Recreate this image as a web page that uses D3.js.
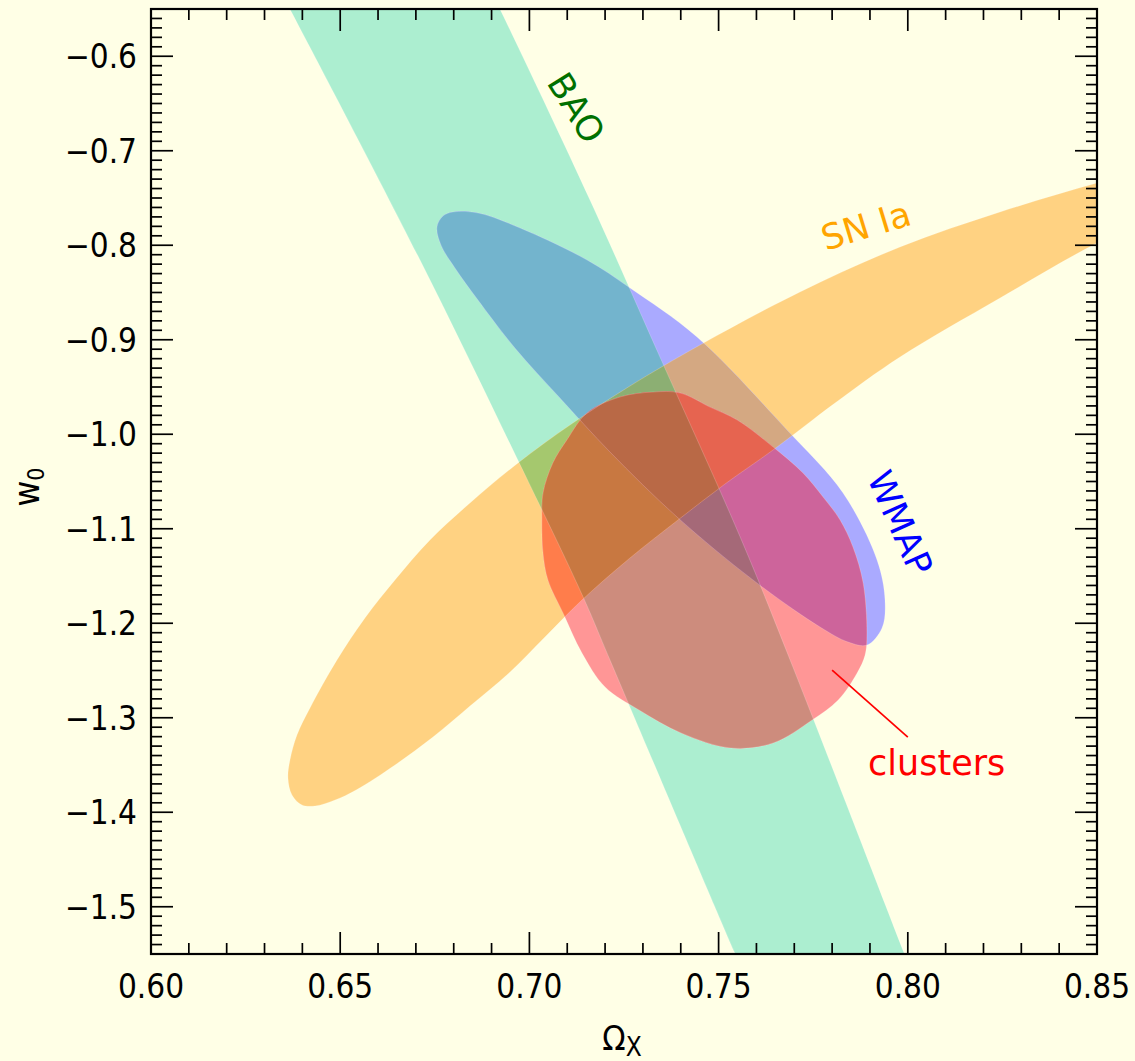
<!DOCTYPE html>
<html><head><meta charset="utf-8">
<script src="https://cdn.jsdelivr.net/npm/d3@7"></script>
<style>
body{margin:0;background:#ffffe6;}
svg{display:block;}
text{font-family:"DejaVu Sans Condensed","DejaVu Sans",sans-serif;}
.lab{font-family:"DejaVu Sans",sans-serif;}
</style>
</head><body>
<script>
// ---------- data ----------
const xDomain = [0.60, 0.85];
const yDomain = [-1.55, -0.55];
const xTickValues = [0.60, 0.65, 0.70, 0.75, 0.80, 0.85];
const yTickValues = [-0.6, -0.7, -0.8, -0.9, -1.0, -1.1, -1.2, -1.3, -1.4, -1.5];

// BAO band: left and right edges [Omega_X, w0]
const baoLeft = [[0.630,-0.50],[0.6367,-0.55],[0.6711,-0.8156],[0.6967,-1.0251],[0.7142,-1.1722],[0.7213,-1.2389],[0.7543,-1.5489],[0.760,-1.60]];
const baoRight = [[0.686,-0.50],[0.6922,-0.55],[0.7160,-0.7521],[0.7345,-0.9183],[0.7557,-1.1087],[0.7689,-1.2389],[0.7990,-1.5489],[0.804,-1.60]];

// SN Ia contour
const snIa = [[0.63673,-1.34471],[0.63858,-1.31825],[0.64202,-1.28968],[0.64915,-1.23889],[0.65655,-1.19444],[0.66448,-1.15423],[0.67373,-1.11190],[0.68430,-1.07275],[0.69699,-1.03042],[0.71073,-0.99021],[0.72658,-0.94894],[0.74508,-0.90556],[0.77151,-0.84947],[0.79794,-0.80185],[0.82437,-0.76481],[0.85000,-0.73413],[0.87193,-0.71190],
  [0.87193,-0.75741],[0.85000,-0.79762],[0.82437,-0.85582],[0.79794,-0.91825],[0.78076,-0.96693],[0.76438,-1.01667],[0.75169,-1.05265],[0.73927,-1.09074],[0.72658,-1.13095],[0.71390,-1.17540],[0.70412,-1.21455],[0.69461,-1.25265],[0.68430,-1.28757],[0.67452,-1.32037],[0.66448,-1.35000],[0.65418,-1.37646],[0.64863,-1.38704],[0.64334,-1.39339],[0.63990,-1.39233],[0.63726,-1.38175],[0.63620,-1.36376]];

// WMAP contour
const wmap = [[0.67558,-0.78069],[0.67717,-0.76905],[0.67981,-0.76481],[0.68642,-0.76587],[0.69752,-0.78175],[0.71522,-0.81561],[0.72659,-0.84524],[0.74429,-0.89709],[0.76808,-0.99550],[0.78288,-1.06217],[0.79186,-1.13307],[0.79397,-1.17540],[0.79318,-1.20503],[0.78922,-1.22302],
  [0.78420,-1.21984],[0.77680,-1.20397],[0.75909,-1.15423],[0.73901,-1.08757],[0.72130,-1.01878],[0.70809,-0.96164],[0.69619,-0.90873],[0.68642,-0.85794],[0.68034,-0.82407],[0.67664,-0.79974]];

// clusters contour
const clusters = [[0.7327,-0.9553],[0.7398,-0.9563],[0.7477,-0.9712],[0.7549,-0.9849],[0.7644,-1.0135],[0.7723,-1.0410],[0.7776,-1.0664],[0.7821,-1.0907],[0.7855,-1.1193],[0.7882,-1.1574],[0.7892,-1.2103],[0.7887,-1.2336],[0.7866,-1.2526],[0.7816,-1.2812],[0.7747,-1.3024],[0.7644,-1.3267],[0.7533,-1.3320],[0.7401,-1.3161],[0.7290,-1.2918],[0.7200,-1.2675],[0.7139,-1.2315],[0.7089,-1.1892],[0.7049,-1.1542],[0.7036,-1.1257],[0.7033,-1.0907],[0.7036,-1.0622],[0.7062,-1.0304],[0.7099,-1.0061],[0.7152,-0.9775],[0.7239,-0.9606]];

// labels
const labelBAO = {text:"BAO", at:[0.71232,-0.65476]};
const labelSN = {text:"SN Ia", at:[0.78895,-0.77963]};
const labelWMAP = {text:"WMAP", at:[0.79794,-1.09392]};
const labelClusters = {text:"clusters", at:[0.7895,-1.3606]};
const clustersPointer = [[0.7800,-1.2495],[0.8000,-1.3204]];

// ---------- styles ----------
const regionColors = {
  B:"#aceed0", S:"#ffd282", W:"#aaaaff", C:"#ff9696",
  BS:"#a5c86e", BW:"#73b4cd", BC:"#cd8c7d", SW:"#d4a882", SC:"#ff7d4b", WC:"#cd649b",
  BSW:"#8caf73", BSC:"#c87841", BWC:"#a56978", SWC:"#e66450", BSWC:"#b96946"
};

const W = 1135, H = 1061;
const plot = {left:151, right:1097, top:9, bottom:954};

const x = d3.scaleLinear().domain(xDomain).range([plot.left, plot.right]);
const y = d3.scaleLinear().domain(yDomain).range([plot.bottom, plot.top]);

const svg = d3.select("body").append("svg").attr("width", W).attr("height", H);
svg.append("rect").attr("width", W).attr("height", H).attr("fill", "#ffffe6");

const defs = svg.append("defs");
defs.append("clipPath").attr("id","clip-plot").append("rect")
  .attr("x",plot.left).attr("y",plot.top).attr("width",plot.right-plot.left).attr("height",plot.bottom-plot.top);

const edgeLine = d3.line().x(d=>x(d[0])).y(d=>y(d[1])).curve(d3.curveCatmullRom);
const closedLine = d3.line().x(d=>x(d[0])).y(d=>y(d[1])).curve(d3.curveCatmullRomClosed);

const baoPath = edgeLine(baoLeft) + "L" + edgeLine(baoRight.slice().reverse()).slice(1) + "Z";
const shapePaths = {
  B: baoPath,
  S: closedLine(snIa),
  W: closedLine(wmap),
  C: closedLine(clusters)
};
const keys = ["B","S","W","C"];
keys.forEach(k=>{
  defs.append("clipPath").attr("id","clip-"+k).append("path").attr("d", shapePaths[k]);
});

const plotG = svg.append("g").attr("clip-path","url(#clip-plot)");

// paint every overlap region in its own colour: subsets by increasing size
const subsets = [];
for (let m=1; m<16; m++) {
  subsets.push(keys.filter((k,i)=> m & (1<<i)));
}
subsets.sort((a,b)=>a.length-b.length);
subsets.forEach(members=>{
  let g = plotG;
  members.forEach(k=>{ g = g.append("g").attr("clip-path","url(#clip-"+k+")"); });
  g.append("rect").attr("x",plot.left).attr("y",plot.top)
    .attr("width",plot.right-plot.left).attr("height",plot.bottom-plot.top)
    .attr("fill", regionColors[members.join("")]);
});
// faint outlines
keys.forEach(k=>{
  plotG.append("path").attr("d", shapePaths[k]).attr("fill","none")
    .attr("stroke","#ffffff").attr("stroke-opacity",0.18).attr("stroke-width",1);
});

// ---------- frame and ticks ----------
const axG = svg.append("g").attr("stroke","#000");
const xMinor = d3.range(0, 26).map(i=> +(0.60 + i*0.01).toFixed(2));
const yMinor = d3.range(0, 101).map(i=> +(-1.55 + i*0.01).toFixed(2));
const isMajorX = v => xTickValues.some(t=>Math.abs(t-v)<1e-9);
const isMajorY = v => yTickValues.some(t=>Math.abs(t-v)<1e-9);
const majorLen = 22, minorLen = 11;
xMinor.forEach(v=>{
  const L = isMajorX(v)? majorLen: minorLen;
  axG.append("line").attr("x1",x(v)).attr("x2",x(v)).attr("y1",plot.bottom).attr("y2",plot.bottom-L).attr("stroke-width",1.7);
  axG.append("line").attr("x1",x(v)).attr("x2",x(v)).attr("y1",plot.top).attr("y2",plot.top+L).attr("stroke-width",1.7);
});
yMinor.forEach(v=>{
  const L = isMajorY(v)? majorLen: minorLen;
  axG.append("line").attr("y1",y(v)).attr("y2",y(v)).attr("x1",plot.left).attr("x2",plot.left+L).attr("stroke-width",1.7);
  axG.append("line").attr("y1",y(v)).attr("y2",y(v)).attr("x1",plot.right).attr("x2",plot.right-L).attr("stroke-width",1.7);
});
svg.append("rect").attr("x",plot.left).attr("y",plot.top)
  .attr("width",plot.right-plot.left).attr("height",plot.bottom-plot.top)
  .attr("fill","none").attr("stroke","#000").attr("stroke-width",2.2);

// tick labels
const fx = d3.format(".2f"), fy = d3.format(".1f");
svg.append("g").selectAll("text").data(xTickValues).join("text")
  .attr("x",d=>x(d)).attr("y",998).attr("text-anchor","middle")
  .attr("font-size",33).attr("fill","#000").text(d=>fx(d));
svg.append("g").selectAll("text").data(yTickValues).join("text")
  .attr("x",137).attr("y",d=>y(d)+12).attr("text-anchor","end")
  .attr("font-size",33).attr("fill","#000").text(d=>fy(d));

// axis titles
const xt = svg.append("text").attr("x",622).attr("y",1050).attr("text-anchor","middle").attr("fill","#000");
xt.append("tspan").attr("font-size",34).text("Ω");
xt.append("tspan").attr("font-size",26).attr("dy",6).text("X");
const yt = svg.append("text").attr("transform","translate(39,487) rotate(-90)").attr("text-anchor","middle").attr("fill","#000");
yt.append("tspan").attr("font-size",35).text("w");
yt.append("tspan").attr("font-size",23).attr("dy",5).text("0");

// ---------- annotations ----------
function rotLabel(lab, angle, color, size){
  svg.append("text").attr("class","lab")
    .attr("transform",`translate(${x(lab.at[0])},${y(lab.at[1])}) rotate(${angle})`)
    .attr("text-anchor","middle").attr("dominant-baseline","central")
    .attr("font-size",size).attr("fill",color).text(lab.text);
}
rotLabel(labelBAO, 58, "#007000", 35);
rotLabel(labelSN, -17, "#ffa500", 35);
rotLabel(labelWMAP, 66, "#0000ff", 35);
svg.append("text").attr("class","lab").attr("x",x(labelClusters.at[0])).attr("y",y(labelClusters.at[1]))
  .attr("font-size",35).attr("fill","#ff0000").text(labelClusters.text);
svg.append("line")
  .attr("x1",x(clustersPointer[0][0])).attr("y1",y(clustersPointer[0][1]))
  .attr("x2",x(clustersPointer[1][0])).attr("y2",y(clustersPointer[1][1]))
  .attr("stroke","#ff0000").attr("stroke-width",1.7);
</script>
</body></html>
